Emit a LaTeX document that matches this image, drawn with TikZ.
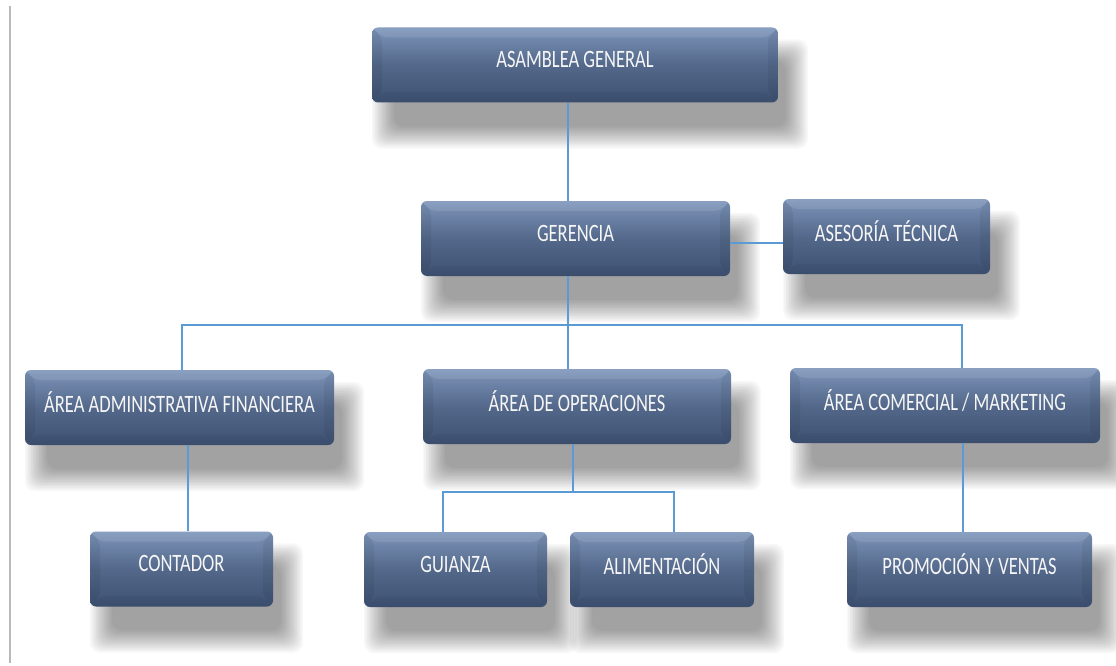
\documentclass[tikz,border=0pt]{standalone}
\usepackage{fontspec}
\setmainfont{Carlito}
\usetikzlibrary{calc}
\pgfdeclarelayer{background}
\pgfsetlayers{background,main}
\definecolor{boxtop}{HTML}{7D95BA}
\definecolor{boxmid}{HTML}{53688A}
\definecolor{boxbot}{HTML}{3E5172}
\definecolor{linkblue}{HTML}{5B9BD5}
\definecolor{txt}{HTML}{F6F6F6}
\newcommand{\lbl}[1]{\raisebox{10.5pt}{\scalebox{0.74}[1]{#1}}}
\tikzset{
  orgbox/.style={rounded corners=6pt, draw=none, top color=boxtop, bottom color=boxbot, middle color=boxmid,
    text=txt, font=\fontsize{25}{27}\selectfont, inner sep=0pt, minimum height=75pt,
    path picture={
      \fill[black,opacity=0.06] (path picture bounding box.north west) -- ([shift={(10pt,-10pt)}]path picture bounding box.north west) -- ([shift={(10pt,10pt)}]path picture bounding box.south west) -- (path picture bounding box.south west) -- cycle;
      \fill[black,opacity=0.06] (path picture bounding box.north east) -- ([shift={(-10pt,-10pt)}]path picture bounding box.north east) -- ([shift={(-10pt,10pt)}]path picture bounding box.south east) -- (path picture bounding box.south east) -- cycle;
      \fill[white,opacity=0.10] (path picture bounding box.north west) -- (path picture bounding box.north east) -- ([shift={(-10pt,-10pt)}]path picture bounding box.north east) -- ([shift={(10pt,-10pt)}]path picture bounding box.north west) -- cycle;
      \fill[black,opacity=0.04] (path picture bounding box.south west) -- (path picture bounding box.south east) -- ([shift={(-10pt,10pt)}]path picture bounding box.south east) -- ([shift={(10pt,10pt)}]path picture bounding box.south west) -- cycle;
    }},
  link/.style={draw=linkblue, line width=2.4pt},
  softshadow/.style={fill=black, opacity=0.028, rounded corners=10pt}
}
\begin{document}
\begin{tikzpicture}
\useasboundingbox (0,0) rectangle (1116pt,-666pt);

\node[orgbox, minimum width=406pt] (asam) at (575pt,-65pt) {\lbl{ASAMBLEA GENERAL}};
\node[orgbox, minimum width=309pt] (ger) at (575.5pt,-238.5pt) {\lbl{GERENCIA}};
\node[orgbox, minimum width=207pt] (ases) at (886.5pt,-236.5pt) {\lbl{ASESORÍA TÉCNICA}};
\node[orgbox, minimum width=309pt] (adm) at (179.5pt,-407.5pt) {\lbl{ÁREA ADMINISTRATIVA FINANCIERA}};
\node[orgbox, minimum width=308pt] (ops) at (577pt,-406.5pt) {\lbl{ÁREA DE OPERACIONES}};
\node[orgbox, minimum width=310pt] (com) at (945pt,-405.5pt) {\lbl{ÁREA COMERCIAL / MARKETING}};
\node[orgbox, minimum width=183pt] (cont) at (181.5pt,-569pt) {\lbl{CONTADOR}};
\node[orgbox, minimum width=183pt] (gui) at (455.5pt,-569.5pt) {\lbl{GUIANZA}};
\node[orgbox, minimum width=184pt] (ali) at (662pt,-569.5pt) {\lbl{ALIMENTACIÓN}};
\node[orgbox, minimum width=245pt] (prom) at (969.5pt,-569.5pt) {\lbl{PROMOCIÓN Y VENTAS}};

\begin{pgfonlayer}{background}
  \fill[white] (0,0) rectangle (1116pt,-666pt);
  \draw[gray!55, line width=2pt] (10pt,-6pt) -- (10pt,-663pt);
  \foreach \n in {asam,ger,ases,adm,ops,com,cont,gui,ali,prom}{
    \foreach \k in {0,...,14}{
      \fill[softshadow] ($(\n.south west)+(0pt+1.6*\k pt,-46pt+1.6*\k pt)$) rectangle ($(\n.north east)+(30pt-1.6*\k pt,-12pt-1.6*\k pt)$);
    }
  }
\end{pgfonlayer}

\coordinate (bC) at (568pt,-325pt);
\coordinate (bL) at (182pt,-325pt);
\coordinate (bR) at (962pt,-325pt);
\coordinate (hg) at (0pt,-243pt);
\coordinate (aC) at (188pt,0pt);
\coordinate (mC) at (963pt,0pt);
\coordinate (oC) at (573pt,-492pt);
\coordinate (oL) at (443pt,-492pt);
\coordinate (oR) at (674pt,-492pt);

\draw[link] (asam.south -| bC) -- (ger.north -| bC);
\draw[link] (ger.east |- hg) -- (ases.west |- hg);
\draw[link] (ger.south -| bC) -- (ops.north -| bC);
\draw[link] (adm.north -| bL) -- (bL) -- (bR) -- (com.north -| bR);
\draw[link] (adm.south -| aC) -- (cont.north -| aC);
\draw[link] (ops.south -| oC) -- (oC);
\draw[link] (gui.north -| oL) -- (oL) -- (oR) -- (ali.north -| oR);
\draw[link] (com.south -| mC) -- (prom.north -| mC);
\end{tikzpicture}
\end{document}
